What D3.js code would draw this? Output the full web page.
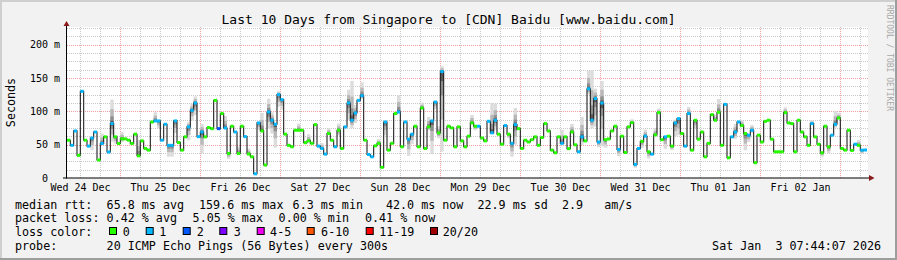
<!DOCTYPE html>
<html><head><meta charset="utf-8">
<script src="https://cdn.jsdelivr.net/npm/d3@7"></script>
<style>
body{margin:0;background:#f2f2f2;overflow:hidden}
svg text{font-family:"DejaVu Sans Mono",monospace;white-space:pre;fill:#000}
</style>
</head><body><svg id="c" width="897" height="260"></svg>
<script>
const title = "Last 10 Days from Singapore to [CDN] Baidu [www.baidu.com]";
const yLabel = "Seconds";
const yTicks = [0, 50, 100, 150, 200];
const yTickLabels = ["0", "50 m", "100 m", "150 m", "200 m"];
const startTime = Date.UTC(2025, 11, 24, 8, 6);
const hoursShown = 240;

// hourly median RTT (ms)
const median = [
 56.7,49,70.6,34,130,56.7,47.8,60,69,27,51.7,61.7,39,81.6,61.7,51.7,58.7,58.7,56.7,51.7,65.7,33.3,55.7,44.3,
 41.8,84,85.6,85.6,56.7,80.6,49,49,85.6,53.2,41.8,61.7,76.6,101.5,112.4,62,69,61.7,75.6,74,116.4,74,96.6,75,
 36.8,77.6,69,36.8,77.6,62,36,31.8,6.3,82.6,70.6,19.4,99,86.6,80.6,125,117.5,65.7,49,46.8,71.6,71.6,71.6,53,
 55.7,52,80,47.8,44.3,35.8,66.7,56.7,46.8,71.6,44.3,76.6,112.4,86.6,97.5,116.4,123.4,56.7,35.3,31.8,48.3,52,16,84,
 41.8,52,96.6,99,46.8,84,58.2,65.7,77.6,46.8,105,44.3,76.6,85.6,113.9,67.7,159.6,56.7,77.6,75.1,46.8,76.6,55.7,46.8,
 62.7,82.6,77.6,77.6,60,55.7,85,67.7,86.6,65.7,50.7,78.6,65.7,52,80,74,44.3,56.7,54,57.5,61.7,49,60.7,81.6,
 70.6,41.8,37.8,61.7,52,61.7,44,69,49.8,39.3,61.7,55.7,133.8,86.6,119,54,112.4,57.5,58.5,70.6,77.6,42.8,62.7,38.3,
 76.6,83,20.4,44.3,55,62.7,39.3,35.8,64.7,98,57.5,61.7,62.7,47.8,82.6,89,66.7,47.8,96.6,41.8,86.6,58.2,69,31.8,
 52,95,86.6,98.5,49,110.4,30.3,61.7,69,84,78.6,66.7,64.2,71.6,22.9,64.2,54,85,86.6,58.2,39.3,39.3,39.3,98,
 82.6,81.6,39.3,86.6,69,61.7,49,81.6,61.7,50.7,37.8,77.6,46.8,64.2,80.6,90,44.3,41.8,71.6,41.3,50.7,49,41.8,42.0
];
// loss class per hour (index into lossColors)
const lossClass = [
 0,1,1,0,1,0,1,1,1,0,1,0,1,1,0,0,0,0,0,0,0,0,0,0,
 0,0,1,1,1,1,1,1,1,0,0,0,1,1,1,1,1,0,0,0,0,2,0,1,
 0,0,1,0,0,1,0,0,1,1,0,0,1,1,1,1,1,0,0,0,0,0,0,0,
 0,0,0,1,1,1,0,0,1,0,0,1,1,1,1,1,1,0,1,1,0,0,0,1,
 0,0,0,1,0,1,1,1,0,0,0,0,0,1,1,0,1,0,0,0,0,0,0,0,
 0,0,0,1,0,0,1,1,1,0,0,1,0,1,1,0,0,0,0,0,0,0,0,0,
 0,0,0,0,1,0,0,0,0,1,1,0,1,1,1,1,1,0,0,0,0,1,0,0,
 0,0,1,1,0,1,0,1,0,0,0,1,0,0,1,1,0,1,1,0,0,0,0,0,
 0,0,0,0,0,1,0,1,1,1,0,0,1,1,0,0,0,0,0,0,0,0,0,0,
 0,0,0,0,0,0,0,1,0,0,0,0,0,1,1,0,0,0,0,0,1,0,1,1
];
// smoke spread above / below the median (ms)
const smokeUp = [
 0,0,0,0,0,0,0,0,0,0,15,0,0,36,0,0,10,0,0,0,0,24,0,0,
 0,0,13,0,0,0,0,0,0,0,0,0,7,10,10,0,12,0,0,0,0,0,0,18,
 0,0,0,10,0,0,8,0,0,0,27,0,20,12,0,5,0,0,0,0,0,10,0,0,
 10,0,0,0,8,0,8,0,0,10,0,0,20,59,12,0,20,0,0,0,0,6,0,0,
 0,0,0,25,0,0,0,0,0,0,8,0,15,0,0,10,8,0,0,0,0,0,0,0,
 0,12,0,0,0,0,0,45,25,0,0,0,0,0,25,0,0,0,0,0,0,0,0,0,
 0,0,0,0,20,0,0,12,0,0,30,0,27,75,15,0,33,0,0,0,0,0,0,0,
 0,5,0,0,0,10,0,0,10,6,0,0,0,0,5,0,0,0,10,0,0,0,0,0,
 0,0,8,20,0,0,0,0,12,0,8,0,0,8,0,0,0,0,0,0,0,0,0,8,
 0,0,0,0,0,0,0,5,0,0,0,0,0,0,20,8,0,0,0,0,0,8,0,0
];
const smokeDn = [
 0,0,0,0,0,0,0,18,0,0,2,0,0,27,10,0,5,0,0,0,0,0,0,0,
 0,0,0,11,0,0,17,17,18,0,0,0,20,15,18,0,32,0,0,0,0,0,0,0,
 8,0,0,0,0,0,0,0,0,10,0,0,25,20,35,18,15,0,0,0,0,0,0,0,
 0,0,0,0,0,0,0,0,0,8,0,0,25,12,15,0,5,0,0,0,0,0,0,20,
 0,0,0,0,0,0,25,15,0,0,0,0,5,50,10,8,120,0,0,0,0,0,0,0,
 0,0,6,0,0,0,0,0,15,0,0,0,6,20,30,0,0,0,0,0,0,0,0,0,
 0,0,0,0,0,0,0,0,0,0,12,0,8,12,42,8,65,12,0,0,0,10,0,0,
 0,0,5,0,10,0,10,0,0,0,0,18,0,6,20,25,0,0,0,0,12,0,0,0,
 0,0,0,0,0,0,0,0,10,0,0,25,10,4,0,0,0,0,0,0,0,0,0,0,
 0,0,0,0,0,0,0,0,0,0,6,0,10,0,5,0,0,0,0,0,0,0,6,0
];
const lossLabels = ["0", "1", "2", "3", "4-5", "6-10", "11-19", "20/20"];
const lossColors = ["#26ff00", "#00b8ff", "#0059ff", "#7e00ff", "#f000f0", "#ff5500", "#ff0000", "#a10000"];
const rttStats = ["65.8 ms avg", "159.6 ms max", "6.3 ms min", "42.0 ms now  22.9 ms sd  2.9   am/s"];
const lossStats = ["0.42 % avg", "5.05 % max", "0.00 % min", "0.41 % now"];
const probeText = "20 ICMP Echo Pings (56 Bytes) every 300s";
const stampText = "Sat Jan  3 07:44:07 2026";

const svg = d3.select("#c");
const W = 897, H = 260;
const HOUR = 3600e3;
const endTime = startTime + hoursShown * HOUR;

// frame
svg.append("rect").attr("width", W).attr("height", H).attr("fill", "#f2f2f2");
svg.append("path").attr("d", `M0,0H${W}V2H2V${H}H0Z`).attr("fill", "#cfcfcf");
svg.append("path").attr("d", `M${W},${H}H0V${H-2}H${W-2}V0H${W}Z`).attr("fill", "#9e9e9e");

const x = d3.scaleUtc().domain([startTime, endTime]).range([67, 867]);
const y = d3.scaleLinear().domain([0, 226]).range([178, 27.3]);

// canvas
svg.append("rect").attr("x", 67).attr("y", 27).attr("width", 801).attr("height", 151).attr("fill", "#fff");

const grid = svg.append("g").attr("shape-rendering", "crispEdges");
d3.range(12.5, 226, 12.5).filter(v => v % 50 !== 0).forEach(v => {
  grid.append("line").attr("x1", 67).attr("x2", 868).attr("y1", Math.round(y(v)) + 0.5).attr("y2", Math.round(y(v)) + 0.5)
    .attr("stroke", "#c8c8c8").attr("stroke-dasharray", "1,1");
});
d3.utcHour.every(6).range(new Date(startTime), new Date(endTime)).filter(d => d.getUTCHours() !== 0).forEach(d => {
  grid.append("line").attr("x1", Math.round(x(d)) + 0.5).attr("x2", Math.round(x(d)) + 0.5).attr("y1", 27).attr("y2", 178)
    .attr("stroke", "#c8c8c8").attr("stroke-dasharray", "1,1");
});
yTicks.filter(v => v > 0).forEach(v => {
  grid.append("line").attr("x1", 67).attr("x2", 868).attr("y1", Math.round(y(v)) + 0.5).attr("y2", Math.round(y(v)) + 0.5)
    .attr("stroke", "#f0a0a0").attr("stroke-dasharray", "1,1");
});
d3.utcDay.range(new Date(startTime), new Date(endTime)).forEach(d => {
  grid.append("line").attr("x1", Math.round(x(d)) + 0.5).attr("x2", Math.round(x(d)) + 0.5).attr("y1", 27).attr("y2", 178)
    .attr("stroke", "#f0a0a0").attr("stroke-dasharray", "1,1");
});

const data = median.map((m, i) => ({
  t0: startTime + i * HOUR, t1: startTime + (i + 1) * HOUR,
  m, loss: lossClass[i], up: smokeUp[i], dn: smokeDn[i]
}));

// smoke
const smoke = svg.append("g");
const layers = [[1, "#dcdcdc"], [0.6, "#b8b8b8"], [0.3, "#8e8e8e"], [0.12, "#5a5a5a"]];
data.filter(d => d.up + d.dn > 0).forEach(d => {
  layers.forEach(([f, col]) => {
    const top = y(d.m + d.up * f), bot = y(Math.max(0, d.m - d.dn * f));
    smoke.append("rect").attr("x", x(d.t0)).attr("width", x(d.t1) - x(d.t0))
      .attr("y", top).attr("height", Math.max(0, bot - top)).attr("fill", col);
  });
});

// median line
const pts = data.map(d => [x(d.t0), y(d.m)]);
pts.push([x(endTime), y(median[median.length - 1])]);
svg.append("path").attr("d", d3.line().curve(d3.curveStepAfter)(pts))
  .attr("fill", "none").attr("stroke", "#202020").attr("stroke-width", 1.1);

// loss colored caps
svg.append("g").selectAll("rect").data(data).join("rect")
  .attr("x", d => x(d.t0)).attr("width", d => x(d.t1) - x(d.t0))
  .attr("y", d => y(d.m) - 1.5).attr("height", 3)
  .attr("fill", d => lossColors[d.loss]);

// axes lines & arrows
svg.append("line").attr("x1", 66.5).attr("x2", 66.5).attr("y1", 178.5).attr("y2", 24).attr("stroke", "#000");
svg.append("line").attr("x1", 63).attr("x2", 870).attr("y1", 178).attr("y2", 178).attr("stroke", "#000");
svg.append("path").attr("d", "M63.5,26L66.5,21L69.5,26Z").attr("fill", "#8b1a1a");
svg.append("path").attr("d", "M869,175L874.5,178L869,181Z").attr("fill", "#8b1a1a");

// y axis labels
const yAxis = d3.axisLeft(y).tickValues(yTicks).tickSize(0).tickPadding(0)
  .tickFormat((v, i) => yTickLabels[i]);
const gy = svg.append("g").attr("transform", "translate(60,0)").call(yAxis);
gy.select(".domain").remove();
gy.selectAll("text").attr("font-family", "DejaVu Sans Mono").attr("font-size", 10).attr("fill", "#000")
  .attr("dy", "0.32em").attr("x", (v) => v === 0 ? -12 : 0);

// x axis labels at noon
const noons = d3.utcDay.range(new Date(startTime - 12 * HOUR), new Date(endTime))
  .map(d => new Date(+d + 12 * HOUR)).filter(d => +d > startTime && +d < endTime - 6 * HOUR);
const xAxis = d3.axisBottom(x).tickValues(noons).tickSize(0).tickPadding(0).tickFormat(d3.utcFormat("%a %d %b"));
const gx = svg.append("g").attr("transform", "translate(0,183)").call(xAxis);
gx.select(".domain").remove();
gx.selectAll("text").attr("font-family", "DejaVu Sans Mono").attr("font-size", 10).attr("fill", "#000")
  .attr("y", 0).attr("dy", "7.7");

// title
svg.append("text").attr("x", 448.5).attr("y", 23.5).attr("text-anchor", "middle").attr("font-size", 13).text(title);
// y label
svg.append("text").attr("transform", "translate(15,102.5) rotate(-90)").attr("text-anchor", "middle")
  .attr("font-size", 11.7).text(yLabel);
// watermark
svg.append("text").attr("transform", "translate(886.5,5) rotate(90)").attr("font-size", 8)
  .style("fill", "#a8a8a8").text("RRDTOOL / TOBI OETIKER");

// legend
const leg = svg.append("g").attr("font-size", 11.7);
function t(xp, yp, s, anchor) {
  leg.append("text").attr("x", xp).attr("y", yp).attr("text-anchor", anchor || "start").text(s);
}
t(15, 208.5, "median rtt:");
[106.6, 199, 292.6, 386].forEach((xp, i) => t(xp, 208.5, rttStats[i]));
t(15, 222, "packet loss:");
[106.6, 192.6, 278.6, 365].forEach((xp, i) => t(xp, 222, lossStats[i]));
t(15, 236, "loss color:");
const boxX = [109, 145.7, 182.7, 219.3, 256.7, 306.7, 365.7, 430];
const labX = [122.7, 159.3, 196.7, 233.7, 270.1, 321.1, 379.2, 442.8];
lossLabels.forEach((l, i) => {
  leg.append("rect").attr("x", boxX[i] + 0.5).attr("y", 227.5).attr("width", 7).attr("height", 7)
    .attr("fill", lossColors[i]).attr("stroke", "#000").attr("stroke-width", 1);
  t(labX[i], 236, l);
});
t(15, 250, "probe:");
t(106.6, 250, probeText);
t(881, 250, stampText, "end");
</script>
</body></html>
